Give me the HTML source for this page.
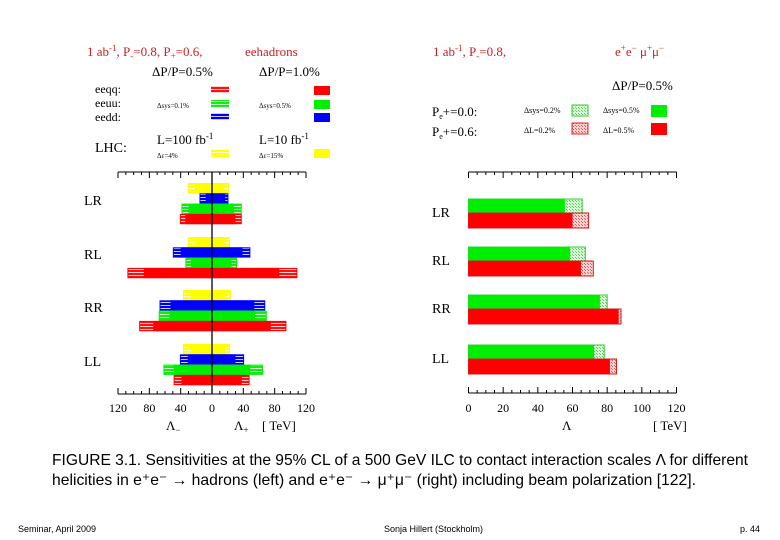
<!DOCTYPE html>
<html><head><meta charset="utf-8"><style>
html,body{margin:0;padding:0;background:#fff}
svg{display:block}
.s{font-family:"Liberation Serif",serif}
.a{font-family:"Liberation Sans",sans-serif}
</style></head><body>
<svg id="c" width="780" height="540" viewBox="0 0 780 540" xmlns="http://www.w3.org/2000/svg">
<defs>
<pattern id="hr" width="4" height="3" patternUnits="userSpaceOnUse"><rect width="4" height="3" fill="#ff1010"/><rect y="2" width="4" height="0.8" fill="#fff"/></pattern>
<pattern id="hg" width="4" height="3" patternUnits="userSpaceOnUse"><rect width="4" height="3" fill="#10ee10"/><rect y="2" width="4" height="0.8" fill="#fff"/></pattern>
<pattern id="hb" width="4" height="3" patternUnits="userSpaceOnUse"><rect width="4" height="3" fill="#0000f0"/><rect y="2" width="4" height="0.8" fill="#fff"/></pattern>
<pattern id="hy" width="4" height="3" patternUnits="userSpaceOnUse"><rect width="4" height="3" fill="#ffff10"/><rect y="2" width="4" height="0.8" fill="#fff"/></pattern>
<pattern id="xg" width="3" height="3" patternUnits="userSpaceOnUse"><rect width="3" height="3" fill="#d8f8d8"/><rect width="1" height="1" fill="#60c860"/><rect x="2" y="2" width="1" height="1" fill="#60c860"/></pattern>
<pattern id="xr" width="3" height="3" patternUnits="userSpaceOnUse"><rect width="3" height="3" fill="#f8d0d0"/><rect width="1" height="1" fill="#d86060"/><rect x="2" y="2" width="1" height="1" fill="#d86060"/></pattern>
</defs>

<g class="s">
<text x="87" y="56" font-size="13" fill="#d02020">1 ab<tspan dy="-5" font-size="9">-1</tspan><tspan dy="5">, P</tspan><tspan dy="3" font-size="9">-</tspan><tspan dy="-3">=0.8, P</tspan><tspan dy="3" font-size="9">+</tspan><tspan dy="-3">=0.6,</tspan></text>
<text x="245" y="56" font-size="13" fill="#d02020">eehadrons</text>
<text x="152" y="76" font-size="13">ΔP/P=0.5%</text>
<text x="259" y="76" font-size="13">ΔP/P=1.0%</text>
<text x="95" y="93" font-size="12">eeqq:</text>
<text x="95" y="107" font-size="12">eeuu:</text>
<text x="95" y="121" font-size="12">eedd:</text>
<text x="157" y="108" font-size="7">Δsys=0.1%</text>
<text x="259" y="108" font-size="7">Δsys=0.5%</text>
<rect x="211" y="86" width="18" height="7" fill="url(#hr)"/>
<rect x="211" y="100" width="18" height="7" fill="url(#hg)"/>
<rect x="211" y="113" width="18" height="7" fill="url(#hb)"/>
<rect x="314" y="86" width="16" height="9" fill="#ff0000"/>
<rect x="314" y="100" width="16" height="9" fill="#00ee00"/>
<rect x="314" y="113" width="16" height="9" fill="#0000ff"/>
<text x="95" y="152" font-size="14">LHC:</text>
<text x="157" y="144" font-size="13">L=100 fb<tspan dy="-5" font-size="9">-1</tspan></text>
<text x="259" y="144" font-size="13">L=10 fb<tspan dy="-5" font-size="9">-1</tspan></text>
<text x="157" y="158" font-size="7">Δε=4%</text>
<text x="259" y="158" font-size="7">Δε=15%</text>
<rect x="211" y="149" width="18" height="8" fill="url(#hy)"/>
<rect x="314" y="149" width="16" height="9" fill="#ffff00"/>
</g>

<g class="s">
<text x="433" y="56" font-size="13" fill="#d02020">1 ab<tspan dy="-5" font-size="9">-1</tspan><tspan dy="5">,  P</tspan><tspan dy="3" font-size="9">-</tspan><tspan dy="-3">=0.8,</tspan></text>
<text x="615" y="56" font-size="13" fill="#d02020">e<tspan dy="-5" font-size="9">+</tspan><tspan dy="5">e</tspan><tspan dy="-5" font-size="9">−</tspan><tspan dy="5"> μ</tspan><tspan dy="-5" font-size="9">+</tspan><tspan dy="5">μ</tspan><tspan dy="-5" font-size="9">−</tspan></text>
<text x="612" y="90" font-size="13">ΔP/P=0.5%</text>
<text x="432" y="116" font-size="13">P<tspan dy="3" font-size="8">e</tspan><tspan dy="-3">+=0.0:</tspan></text>
<text x="432" y="136" font-size="13">P<tspan dy="3" font-size="8">e</tspan><tspan dy="-3">+=0.6:</tspan></text>
<text x="524" y="113" font-size="8">Δsys=0.2%</text>
<text x="603" y="113" font-size="8">Δsys=0.5%</text>
<text x="524" y="133" font-size="8">ΔL=0.2%</text>
<text x="603" y="133" font-size="8">ΔL=0.5%</text>
<rect x="572" y="105" width="16" height="11" fill="url(#xg)" stroke="#30d030"/>
<rect x="651" y="105" width="16" height="12" fill="#00ee00"/>
<rect x="572" y="123" width="16" height="11" fill="url(#xr)" stroke="#e02020"/>
<rect x="651" y="123" width="16" height="12" fill="#ff0000"/>
</g>

<g id="L"></g>
<g id="R"></g>

<text class="a" x="52" y="465" font-size="16" textLength="696" lengthAdjust="spacingAndGlyphs">FIGURE 3.1.  Sensitivities at the 95% CL of a 500 GeV ILC to contact interaction scales Λ for different</text>
<text class="a" x="52" y="485" font-size="16" textLength="644" lengthAdjust="spacingAndGlyphs">helicities in e⁺e⁻ → hadrons (left) and e⁺e⁻ → μ⁺μ⁻ (right) including beam polarization [122].</text>
<text class="a" x="18" y="532" font-size="9">Seminar, April 2009</text>
<text class="a" x="384" y="532" font-size="9">Sonja Hillert (Stockholm)</text>
<text class="a" x="740" y="532" font-size="9">p. 44</text>
</svg>
<script>
// ---- left chart data (TeV) ----
const helicities = ["LR","RL","RR","LL"];
const leftSeries = ["yellow","blue","green","red"];
const yellowOuterNeg = [31,31,37,37], yellowInnerNeg = [22,22,27,27], yellowInnerPos = [15,15,17,17], yellowOuterPos = [22,23,24,23];
const blueOuterNeg = [16,50,67,41], blueInnerNeg = [8,40,53,31], blueInnerPos = [17,39,54,30], blueOuterPos = [21,49,68,41];
const greenOuterNeg = [39,34,68,62], greenInnerNeg = [30,27,54,49], greenInnerPos = [28,25,55,49], greenOuterPos = [38,32,70,65];
const redOuterNeg = [41,108,93,49], redInnerNeg = [34,87,75,39], redInnerPos = [30,86,75,38], redOuterPos = [38,109,95,48];
const leftTicks = [120,80,40,0,40,80,120];
// ---- right chart data (TeV) ----
const greenSolid = [55.6,58.6,75.8,72.4], greenTotal = [65.6,67.4,80,78.3];
const redSolid = [60,64.9,86.6,81.6], redTotal = [69.3,72,88,85.4];
const rightTicks = [0,20,40,60,80,100,120];

const NS="http://www.w3.org/2000/svg";
function mk(parent,tag,attrs,text){const e=document.createElementNS(NS,tag);for(const k in attrs)e.setAttribute(k,attrs[k]);if(text!==undefined)e.textContent=text;parent.appendChild(e);return e;}

const L=document.getElementById('L');
const lx0=212, lk=94/120;
const lxNeg=v=>lx0-v*lk, lxPos=v=>lx0+v*lk;
const lGroupTop=[183,237,290,344], barH=10.3;
const colors={yellow:["#ffff00","url(#hy)"],blue:["#0000ff","url(#hb)"],green:["#00ee00","url(#hg)"],red:["#ff0000","url(#hr)"]};
const lData={yellow:[yellowOuterNeg,yellowInnerNeg,yellowInnerPos,yellowOuterPos],blue:[blueOuterNeg,blueInnerNeg,blueInnerPos,blueOuterPos],green:[greenOuterNeg,greenInnerNeg,greenInnerPos,greenOuterPos],red:[redOuterNeg,redInnerNeg,redInnerPos,redOuterPos]};
helicities.forEach((h,i)=>{
  const lab=mk(L,'text',{x:84,y:lGroupTop[i]+22,'font-size':14,class:'s'},h);
  
  
  leftSeries.forEach((s,j)=>{
    const d=lData[s], y=lGroupTop[i]+j*barH;
    const on=d[0][i],inn=d[1][i],ip=d[2][i],op=d[3][i];
    const o=mk(L,'rect',{x:lxNeg(on)+0.5,y:y+0.5,width:lxPos(op)-lxNeg(on)-1,height:barH-1,fill:colors[s][1],stroke:colors[s][0]});
    
    
    const r=mk(L,'rect',{x:lxNeg(inn),y:y,width:lxPos(ip)-lxNeg(inn),height:barH,fill:colors[s][0]});
    
    
  });
});
const la=mk(L,'line',{x1:lxNeg(120),x2:lxPos(120),y1:394,y2:394,stroke:'#000'});


const lt=mk(L,'line',{x1:lxNeg(120),x2:lxPos(120),y1:172,y2:172,stroke:'#000'});


const lz=mk(L,'line',{x1:lx0,x2:lx0,y1:172,y2:394,stroke:'#000','stroke-width':1.3});


for(let v=-120;v<=120;v+=10){const x=lx0+v*lk,big=v%40===0;
  mk(L,'line',{x1:x,x2:x,y1:394,y2:394-(big?6:3),stroke:'#000'});
  mk(L,'line',{x1:x,x2:x,y1:172,y2:172+(big?6:3),stroke:'#000'});}
leftTicks.forEach((t,i)=>{const v=(i<3?-t:t);
  const e=mk(L,'text',{x:lx0+v*lk,y:412,'font-size':12,'text-anchor':'middle',class:'s'},t);
  
  });
const ln=mk(L,'text',{x:166,y:430,'font-size':13,class:'s'},'Λ');mk(ln,'tspan',{dy:3,'font-size':9},'−');


const lp=mk(L,'text',{x:234,y:430,'font-size':13,class:'s'},'Λ');mk(lp,'tspan',{dy:3,'font-size':9},'+');


const lu=mk(L,'text',{x:262,y:430,'font-size':13,class:'s'},'[ TeV]');



const R=document.getElementById('R');
const rx0=468.5, rk=208/120, rx=v=>rx0+v*rk;
const rTop=[199,247,295,345], rH=14;
helicities.forEach((h,i)=>{
  const lab=mk(R,'text',{x:432,y:rTop[i]+18,'font-size':14,class:'s'},h);
  
  
  const y0=rTop[i], y1=rTop[i]+rH;
  const g1=mk(R,'rect',{x:rx0,y:y0,width:rx(greenTotal[i])-rx0,height:rH,fill:'url(#xg)',stroke:'#30d030'});
  
  
  const g2=mk(R,'rect',{x:rx0,y:y0,width:rx(greenSolid[i])-rx0,height:rH,fill:'#00ee00'});
  
  
  const r1=mk(R,'rect',{x:rx0,y:y1,width:rx(redTotal[i])-rx0,height:rH+1,fill:'url(#xr)',stroke:'#d02020'});
  
  
  const r2=mk(R,'rect',{x:rx0,y:y1,width:rx(redSolid[i])-rx0,height:rH+1,fill:'#ff0000'});
  
  
});
const ra=mk(R,'line',{x1:rx(0),x2:rx(120),y1:393,y2:393,stroke:'#000'});


const rt=mk(R,'line',{x1:rx(0),x2:rx(120),y1:172,y2:172,stroke:'#000'});


for(let v=0;v<=120;v+=5){const x=rx(v),big=v%20===0;
  mk(R,'line',{x1:x,x2:x,y1:393,y2:393-(big?6:3),stroke:'#000'});
  mk(R,'line',{x1:x,x2:x,y1:172,y2:172+(big?6:3),stroke:'#000'});}
rightTicks.forEach(t=>{const e=mk(R,'text',{x:rx(t),y:412,'font-size':12,'text-anchor':'middle',class:'s'},t);
  
  });
const rl=mk(R,'text',{x:562,y:430,'font-size':13,class:'s'},'Λ');


const ru=mk(R,'text',{x:653,y:430,'font-size':13,class:'s'},'[ TeV]');


</script>
</body></html>
